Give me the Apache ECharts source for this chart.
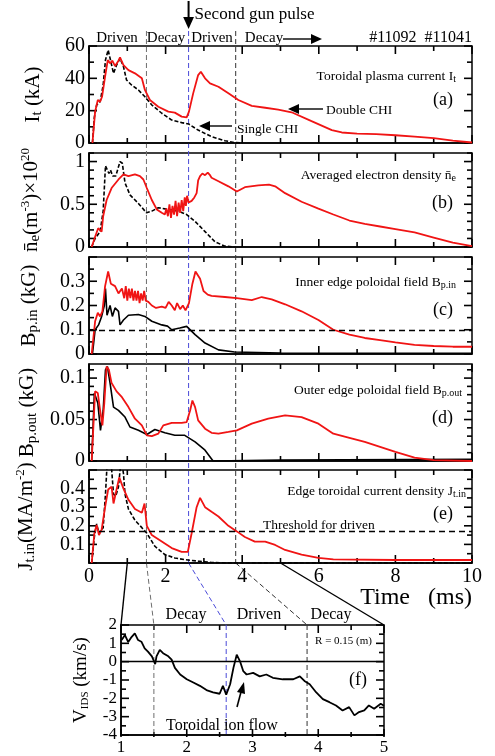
<!DOCTYPE html>
<html>
<head>
<meta charset="utf-8">
<script src="https://cdn.jsdelivr.net/npm/echarts@6/dist/echarts.min.js"></script>
<style>
  html, body { margin: 0; background: #fff; }
  #chart { width: 495px; height: 756px; }
</style>
</head>
<body>
<div id="chart"></div>
<script>
const SERIF = 'Liberation Serif'
const RED = '#f01414'

// (a) toroidal plasma current, kA
const currentDouble = [[0.09,0],[0.16,19.4],[0.23,26.6],[0.29,25.5],[0.34,28.6],[0.42,41],[0.49,51.3],[0.55,49.3],[0.61,51],[0.68,47.6],[0.77,50.9],[0.81,53],[0.9,48.2],[1.03,45.1],[1.2,43.1],[1.38,40],[1.46,32.8],[1.59,26.6],[1.81,22.4],[2.07,19.4],[2.24,18.8],[2.42,16.3],[2.55,15.9],[2.61,19.4],[2.72,30.7],[2.85,42],[2.92,44.1],[3.03,40],[3.16,36.9],[3.38,34.8],[3.64,30.7],[3.9,26.6],[4.25,23],[4.6,21.8],[4.94,20.6],[5.29,19],[5.81,13.5],[6.34,8],[6.6,6.5],[7,5.8],[7.5,5.5],[8,4.8],[8.5,4],[9,3],[9.5,1.5],[10,0.3]]
const currentSingle = [[0.09,0],[0.14,16],[0.2,23.5],[0.29,25.5],[0.37,35.9],[0.43,51.3],[0.5,57.5],[0.55,52.4],[0.64,43.1],[0.72,48.2],[0.81,52.4],[0.9,47.2],[0.98,39],[1.11,35.9],[1.29,32.8],[1.46,28.6],[1.64,23.5],[1.9,18.4],[2.16,14.2],[2.42,12.6],[2.6,11.8],[2.85,8],[3.2,3.9],[3.55,1.4],[3.8,0.3],[4.0,0]]

// (b) averaged electron density, 1e20 m^-3
const densityDouble = [[0.07,0],[0.16,0.12],[0.24,0.22],[0.33,0.18],[0.37,0.36],[0.46,0.55],[0.59,0.69],[0.77,0.79],[0.9,0.85],[1.03,0.83],[1.2,0.85],[1.33,0.83],[1.42,0.79],[1.51,0.69],[1.64,0.55],[1.77,0.44],[1.9,0.4],[1.98,0.38],[2.02,0.45],[2.06,0.36],[2.1,0.5],[2.14,0.34],[2.18,0.48],[2.22,0.38],[2.26,0.54],[2.3,0.36],[2.34,0.52],[2.38,0.4],[2.42,0.55],[2.46,0.42],[2.5,0.58],[2.53,0.48],[2.56,0.6],[2.6,0.52],[2.68,0.54],[2.75,0.58],[2.81,0.63],[2.85,0.78],[2.9,0.83],[2.96,0.86],[3.03,0.84],[3.1,0.87],[3.16,0.84],[3.2,0.81],[3.38,0.77],[3.64,0.71],[3.86,0.65],[4.07,0.7],[4.42,0.72],[4.7,0.73],[4.86,0.71],[5.12,0.63],[5.55,0.53],[5.99,0.45],[6.38,0.38],[6.8,0.31],[7.2,0.27],[7.6,0.24],[8,0.21],[8.5,0.17],[9,0.11],[9.5,0.05],[10,0.01]]
const densitySingle = [[0.07,0],[0.16,0.1],[0.29,0.18],[0.37,0.42],[0.43,0.95],[0.48,0.9],[0.52,0.86],[0.56,0.9],[0.62,0.83],[0.7,0.83],[0.81,1.0],[0.87,0.98],[0.94,0.75],[1.07,0.61],[1.29,0.51],[1.5,0.4],[1.64,0.42],[1.81,0.46],[2.07,0.44],[2.33,0.42],[2.55,0.38],[2.77,0.3],[3.03,0.18],[3.29,0.06],[3.55,0.01],[3.8,0]]

// (c) inner edge poloidal field, kG
const innerDouble = [[0.07,0],[0.16,0.135],[0.23,0.17],[0.29,0.155],[0.35,0.176],[0.42,0.28],[0.5,0.34],[0.57,0.29],[0.68,0.28],[0.77,0.25],[0.86,0.27],[0.92,0.23],[0.96,0.28],[1.0,0.22],[1.04,0.27],[1.08,0.23],[1.12,0.27],[1.16,0.22],[1.2,0.26],[1.24,0.22],[1.28,0.26],[1.32,0.21],[1.36,0.25],[1.4,0.22],[1.44,0.26],[1.48,0.22],[1.55,0.215],[1.64,0.2],[1.75,0.19],[1.9,0.195],[2.0,0.19],[2.08,0.215],[2.16,0.2],[2.24,0.18],[2.3,0.21],[2.38,0.185],[2.45,0.2],[2.52,0.18],[2.56,0.175],[2.61,0.21],[2.7,0.29],[2.78,0.34],[2.9,0.31],[2.99,0.26],[3.1,0.245],[3.2,0.24],[3.55,0.235],[3.86,0.23],[4.25,0.222],[4.51,0.235],[4.77,0.225],[5.12,0.205],[5.55,0.176],[5.99,0.14],[6.38,0.1],[6.8,0.08],[7.2,0.066],[7.6,0.057],[8,0.048],[8.5,0.038],[9,0.033],[9.5,0.03],[10,0.03]]
const innerSingle = [[0.09,0],[0.16,0.1],[0.25,0.12],[0.33,0.155],[0.4,0.2],[0.43,0.27],[0.47,0.16],[0.55,0.2],[0.61,0.155],[0.68,0.19],[0.77,0.176],[0.81,0.12],[0.9,0.14],[1.03,0.16],[1.29,0.163],[1.46,0.155],[1.64,0.135],[1.9,0.12],[2.05,0.115],[2.16,0.1],[2.37,0.107],[2.55,0.114],[2.77,0.08],[3.03,0.045],[3.38,0.017],[3.8,0.008],[5,0.004],[7,0.003],[10,0.003]]

// (d) outer edge poloidal field, kG
const outerDouble = [[0.07,0],[0.16,0.084],[0.23,0.082],[0.29,0.061],[0.35,0.043],[0.4,0.07],[0.46,0.114],[0.52,0.11],[0.59,0.094],[0.72,0.084],[0.86,0.077],[1.03,0.065],[1.2,0.051],[1.38,0.043],[1.51,0.031],[1.64,0.03],[1.81,0.033],[1.94,0.043],[2.16,0.046],[2.42,0.046],[2.55,0.047],[2.64,0.061],[2.7,0.073],[2.77,0.065],[2.85,0.049],[3.03,0.039],[3.2,0.034],[3.38,0.033],[3.64,0.035],[3.86,0.037],[4.25,0.045],[4.68,0.051],[5.12,0.055],[5.55,0.053],[5.99,0.045],[6.38,0.033],[6.8,0.028],[7.2,0.023],[7.6,0.017],[8,0.011],[8.5,0.004],[9,0.001],[10,0]]
const outerSingle = [[0.07,0],[0.14,0.082],[0.23,0.07],[0.3,0.037],[0.37,0.061],[0.43,0.11],[0.48,0.114],[0.55,0.094],[0.64,0.065],[0.77,0.061],[0.94,0.053],[1.07,0.041],[1.29,0.037],[1.51,0.032],[1.72,0.038],[1.98,0.034],[2.24,0.031],[2.5,0.031],[2.77,0.023],[3.03,0.013],[3.24,0],[5,0.001],[10,0.002]]

// (e) edge toroidal current density, MA/m^2
const jDouble = [[0.07,0],[0.14,0.16],[0.2,0.205],[0.26,0.15],[0.33,0.18],[0.42,0.3],[0.5,0.395],[0.59,0.41],[0.64,0.32],[0.72,0.395],[0.79,0.46],[0.9,0.4],[1.03,0.34],[1.2,0.29],[1.38,0.27],[1.45,0.32],[1.51,0.2],[1.64,0.15],[1.9,0.115],[2.16,0.08],[2.42,0.06],[2.58,0.06],[2.68,0.16],[2.81,0.3],[2.9,0.35],[3.03,0.3],[3.2,0.275],[3.38,0.25],[3.64,0.2],[3.86,0.17],[4.07,0.14],[4.33,0.115],[4.6,0.115],[4.86,0.097],[5.12,0.07],[5.55,0.045],[5.99,0.027],[6.38,0.02],[8,0.016],[10,0.016]]
const jSingle = [[0.07,0],[0.14,0.14],[0.2,0.21],[0.26,0.16],[0.37,0.19],[0.43,0.37],[0.48,0.56],[0.57,0.56],[0.64,0.37],[0.7,0.36],[0.77,0.41],[0.84,0.56],[0.9,0.48],[0.94,0.37],[1.03,0.29],[1.2,0.23],[1.38,0.19],[1.51,0.16],[1.72,0.09],[1.98,0.045],[2.24,0.027],[2.5,0.018],[2.85,0.01],[3.2,0.003],[3.6,0],[10,0]]

// (f) toroidal ion flow, km/s
const ionFlow = [[1.01,1.18],[1.06,1.45],[1.11,1.07],[1.16,1.34],[1.21,1.54],[1.26,1.18],[1.31,1.09],[1.36,0.73],[1.41,0.55],[1.47,0.29],[1.52,-0.13],[1.54,0.29],[1.59,0.64],[1.64,0.46],[1.72,0.29],[1.77,0.11],[1.82,-0.34],[1.9,-0.7],[2.0,-0.96],[2.1,-1.14],[2.2,-1.32],[2.3,-1.55],[2.4,-1.68],[2.5,-1.75],[2.55,-1.32],[2.6,-1.8],[2.66,-1.23],[2.71,-0.34],[2.76,0.38],[2.81,0.02],[2.86,-0.52],[2.91,-0.7],[3.01,-0.61],[3.11,-0.8],[3.21,-0.7],[3.31,-0.88],[3.46,-0.96],[3.62,-0.96],[3.72,-0.8],[3.79,-1.05],[3.87,-1.23],[3.97,-1.68],[4.07,-2.04],[4.17,-2.21],[4.27,-2.39],[4.37,-2.66],[4.47,-2.48],[4.55,-2.93],[4.62,-2.75],[4.7,-2.66],[4.77,-2.39],[4.85,-2.57],[4.95,-2.3],[5,-2.4]]

const thresholdBp = 0.1
const thresholdJ = 0.17
const phaseTimes = [1.5, 2.6, 3.83]
const phaseColors = ['#6e6e6e', '#4a4ad8', '#333333']
const zoomRange = [1, 5]

const rich = {
  s: { fontFamily: SERIF, fontSize: 15, verticalAlign: 'bottom', padding: [9, 0, 0, 0] },
  p: { fontFamily: SERIF, fontSize: 13, verticalAlign: 'top', padding: [0, 0, 9, 0] },
}

const panels = [
  { top: 46, height: 97, max: 60, interval: 20, minor: 2, name: 'I{s|t} (kA)', gap: 44, red: currentDouble, black: currentSingle, dash: true, showMax: true },
  { top: 153, height: 94, max: 1.1, interval: 0.5, minor: 5, name: 'n\u0304{s|e}(m{p|-3})\u00d710{p|20}', gap: 46, red: densityDouble, black: densitySingle, dash: true },
  { top: 257, height: 97, max: 0.4, interval: 0.1, minor: 2, name: 'B{s|p.in} (kG)', gap: 48, red: innerDouble, black: innerSingle, dash: false, line: thresholdBp },
  { top: 364, height: 97, max: 0.117, interval: 0.05, minor: 5, name: 'B{s|p.out} (kG)', gap: 44, red: outerDouble, black: outerSingle, dash: false },
  { top: 470, height: 93, max: 0.5, interval: 0.1, minor: 2, name: 'J{s|t.in}(MA/m{p|-2})', gap: 51, red: jDouble, black: jSingle, dash: true, line: thresholdJ },
]
const fGrid = { left: 121, top: 625, width: 263, height: 112 }

const labelStyle = { fontFamily: SERIF, fontSize: 20, color: '#000' }
const blackLine = { show: true, onZero: false, lineStyle: { color: '#000', width: 1.5 } }
const frame = { show: true, borderColor: '#000', borderWidth: 1.5, backgroundColor: 'transparent' }

const grid = []
const xAxis = []
const yAxis = []
const series = []

panels.forEach((p, i) => {
  grid.push({ left: 89, width: 383, top: p.top, height: p.height, ...frame })
  xAxis.push({
    type: 'value', gridIndex: i, min: 0, max: 10, interval: 2,
    axisLine: blackLine, axisTick: { show: false }, splitLine: { show: false },
    axisLabel: { show: i === panels.length - 1, ...labelStyle, margin: 4 },
  })
  yAxis.push({
    type: 'value', gridIndex: i, min: 0, max: p.max, interval: p.interval,
    axisLine: blackLine, axisTick: { show: false }, splitLine: { show: false },
    axisLabel: { ...labelStyle, margin: 4, showMaxLabel: !!p.showMax },
    name: p.name, nameLocation: 'middle', nameGap: p.gap, nameRotate: 90,
    nameTextStyle: { fontFamily: SERIF, fontSize: 21, color: '#000', rich },
  })
  series.push({
    type: 'line', xAxisIndex: i, yAxisIndex: i, data: p.black, showSymbol: false,
    lineStyle: { color: '#000', width: 1.6, type: p.dash ? [4, 2] : 'solid' }, silent: true,
  })
  const red = {
    type: 'line', xAxisIndex: i, yAxisIndex: i, data: p.red, showSymbol: false,
    lineStyle: { color: RED, width: 1.8 }, silent: true,
  }
  if (p.line !== undefined) {
    red.markLine = {
      silent: true, symbol: 'none', label: { show: false },
      lineStyle: { color: '#000', type: [6, 4], width: 1.3 },
      data: [{ yAxis: p.line }],
    }
  }
  series.push(red)
})

// panel (f)
grid.push({ ...fGrid, ...frame })
xAxis.push({
  type: 'value', gridIndex: 5, min: zoomRange[0], max: zoomRange[1], interval: 1,
  axisLine: blackLine, axisTick: { show: false }, splitLine: { show: false },
  axisLabel: { ...labelStyle, fontSize: 17, margin: 4 },
})
yAxis.push({
  type: 'value', gridIndex: 5, min: -4, max: 2, interval: 1,
  axisLine: blackLine, axisTick: { show: false }, splitLine: { show: false },
  axisLabel: { ...labelStyle, fontSize: 17, margin: 4 },
  name: 'V{s|IDS} (km/s)', nameLocation: 'middle', nameGap: 30, nameRotate: 90,
  nameTextStyle: { fontFamily: SERIF, fontSize: 19, color: '#000', rich: { s: { fontFamily: SERIF, fontSize: 11, verticalAlign: 'bottom', padding: [8, 0, 0, 0] } } },
})
series.push({
  type: 'line', xAxisIndex: 5, yAxisIndex: 5, data: ionFlow, showSymbol: false,
  lineStyle: { color: '#000', width: 1.8 }, silent: true,
  markLine: {
    silent: true, symbol: 'none', label: { show: false },
    lineStyle: { color: '#000', type: 'solid', width: 1.3 },
    data: [{ yAxis: 0 }],
  },
})

const chart = echarts.init(document.getElementById('chart'))
chart.setOption({ animation: false, grid, xAxis, yAxis, series })

// ---- overlay: inward ticks, phase lines, annotations ----
const px = (v) => chart.convertToPixel({ xAxisIndex: 0 }, v)
const pf = (v) => chart.convertToPixel({ xAxisIndex: 5 }, v)
const eBottom = panels[4].top + panels[4].height
const fTop = fGrid.top
const fBottom = fGrid.top + fGrid.height

function txt(x, y, text, size, align = 'left', extra = {}) {
  return {
    type: 'text', x, y, silent: true,
    style: { text, fontFamily: SERIF, fontSize: size, fill: '#000', align, verticalAlign: 'middle', ...extra },
  }
}
function seg(x1, y1, x2, y2, color = '#000', dash = null, w = 1.2) {
  return {
    type: 'line', silent: true, shape: { x1, y1, x2, y2 },
    style: { stroke: color, lineWidth: w, lineDash: dash },
  }
}
function head(x, y, dir, size = 10) {
  // filled arrow head with tip at (x,y)
  const w = size * 0.45
  let pts
  if (dir === 'left') pts = [[x, y], [x + size, y - w], [x + size, y + w]]
  else if (dir === 'right') pts = [[x, y], [x - size, y - w], [x - size, y + w]]
  else pts = [[x, y], [x - w, y - size], [x + w, y - size]]
  return { type: 'polygon', silent: true, shape: { points: pts }, style: { fill: '#000' } }
}
function steps(min, max, step) {
  const out = []
  for (let k = Math.ceil(min / step - 1e-9); k * step <= max + 1e-9; k++) out.push(k * step)
  return out
}

const g = []

// ticks pointing into each frame, placed through the axes' own scales
const tickSpecs = panels.map((p, i) => ({
  idx: i, left: 89, right: 472, top: p.top, bottom: p.top + p.height,
  x: [0, 10, 2, 2], y: [0, p.max, p.interval, p.minor],
}))
tickSpecs.push({
  idx: 5, left: fGrid.left, right: fGrid.left + fGrid.width, top: fTop, bottom: fBottom,
  x: [zoomRange[0], zoomRange[1], 1, 2], y: [-4, 2, 1, 2],
})
tickSpecs.forEach((s) => {
  const [x0, x1, xs, xm] = s.x
  steps(x0, x1, xs / xm).forEach((v) => {
    const major = Math.abs(v / xs - Math.round(v / xs)) < 1e-6
    const len = major ? 8 : 5
    const xp = chart.convertToPixel({ xAxisIndex: s.idx }, v)
    g.push(seg(xp, s.bottom, xp, s.bottom - len, '#000', null, 1.6))
    g.push(seg(xp, s.top, xp, s.top + len, '#000', null, 1.6))
  })
  const [y0, y1, ys, ym] = s.y
  steps(y0, y1, ys / ym).forEach((v) => {
    const major = Math.abs(v / ys - Math.round(v / ys)) < 1e-6
    const len = major ? 8 : 5
    const yp = chart.convertToPixel({ yAxisIndex: s.idx }, v)
    g.push(seg(s.left, yp, s.left + len, yp, '#000', null, 1.6))
    g.push(seg(s.right, yp, s.right - len, yp, '#000', null, 1.6))
  })
})

phaseTimes.forEach((t, k) => {
  const c = phaseColors[k]
  const xe = px(t)
  const xf = pf(t)
  g.push(seg(xe, 31, xe, eBottom, c, [5, 3], 1))
  g.push(seg(xe, eBottom, xf, fTop, c, [5, 3], 1))
  g.push(seg(xf, fTop, xf, fBottom, c, [5, 3], 1))
})
g.push(seg(px(zoomRange[0]), eBottom, pf(zoomRange[0]), fTop, '#000', null, 1.4))
g.push(seg(px(zoomRange[1]), eBottom, pf(zoomRange[1]), fTop, '#000', null, 1.4))

// header
const xg = px(phaseTimes[1])
g.push(seg(xg, 1, xg, 20, '#000', null, 2))
g.push(head(xg, 29, 'down', 12))
g.push(txt(xg + 6, 15, 'Second gun pulse', 17))
g.push(txt(117, 38, 'Driven', 15, 'center'))
g.push(txt(166, 38, 'Decay', 15, 'center'))
g.push(txt(212, 38, 'Driven', 15, 'center'))
g.push(txt(264, 38, 'Decay', 15, 'center'))
g.push(seg(283, 39, 312, 39, '#000', null, 1.4))
g.push(head(322, 39, 'right', 11))
g.push(txt(472, 38, '#11092  #11041', 16, 'right'))

// panel labels
const sub = { s: { fontFamily: SERIF, fontSize: 10, verticalAlign: 'bottom', padding: [6, 0, 0, 0] } }
g.push(txt(456, 76, 'Toroidal plasma current I{s|t}', 13.5, 'right', { rich: sub }))
g.push(txt(453, 100, '(a)', 18, 'right'))
g.push(txt(326, 110, 'Double CHI', 13.5))
g.push(seg(298, 109, 323, 109, '#000', null, 1.4))
g.push(head(288, 109, 'left', 11))
g.push(txt(237, 129, 'Single CHI', 13.5))
g.push(seg(209, 126, 232, 126, '#000', null, 1.4))
g.push(head(199, 126, 'left', 11))

g.push(txt(456, 175, 'Averaged electron density n\u0304{s|e}', 13.5, 'right', { rich: sub }))
g.push(txt(453, 203, '(b)', 18, 'right'))
g.push(txt(456, 282, 'Inner edge poloidal field B{s|p.in}', 13.5, 'right', { rich: sub }))
g.push(txt(453, 310, '(c)', 18, 'right'))
g.push(txt(462, 390, 'Outer edge poloidal field B{s|p.out}', 13.5, 'right', { rich: sub }))
g.push(txt(453, 418, '(d)', 18, 'right'))
g.push(txt(466, 491, 'Edge toroidal current density J{s|t.in}', 13.5, 'right', { rich: sub }))
g.push(txt(453, 514, '(e)', 18, 'right'))
g.push(txt(263, 525, 'Threshold for driven', 13.5))
g.push(txt(472, 598, 'Time   (ms)', 24, 'right'))

// panel (f) labels
g.push(txt(186, 615, 'Decay', 16, 'center'))
g.push(txt(259, 615, 'Driven', 16, 'center'))
g.push(txt(331, 615, 'Decay', 16, 'center'))
g.push(txt(372, 641, 'R = 0.15 (m)', 11, 'right'))
g.push(txt(367, 680, '(f)', 18, 'right'))
g.push(txt(166, 726, 'Toroidal ion flow', 16))
g.push(seg(237, 707, 241, 692, '#000', null, 1.6))
g.push({ type: 'polygon', silent: true, shape: { points: [[244, 682], [237, 692], [245, 694]] }, style: { fill: '#000' } })

chart.setOption({ graphic: { elements: g } })
</script>
</body>
</html>
